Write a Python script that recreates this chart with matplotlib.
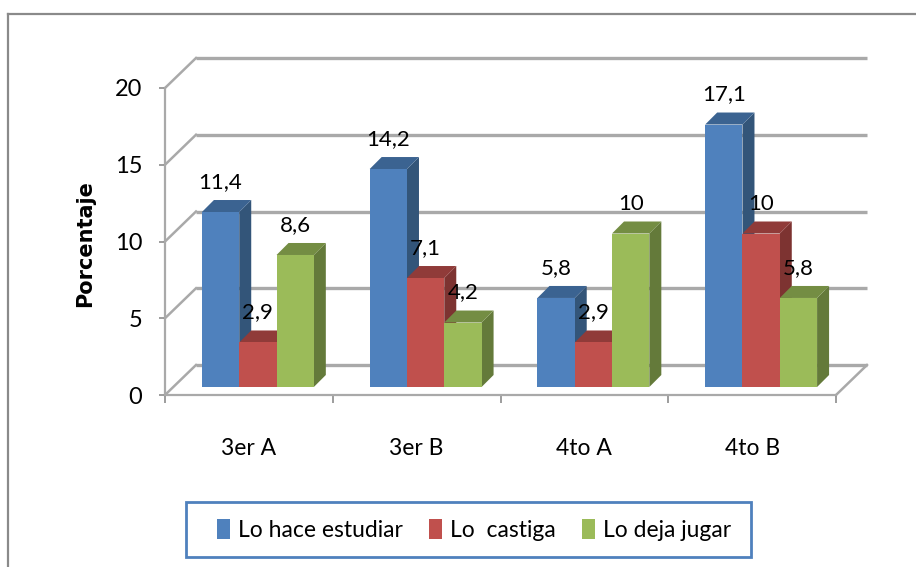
import matplotlib
matplotlib.use("Agg")
import matplotlib.pyplot as plt
from matplotlib.lines import Line2D
from matplotlib.patches import Patch, Rectangle
from matplotlib.transforms import Affine2D

categories = ["3er A", "3er B", "4to A", "4to B"]
series_names = ["Lo hace estudiar", "Lo  castiga", "Lo deja jugar"]
estudiar = [11.4, 14.2, 5.8, 17.1]
castiga = [2.9, 7.1, 2.9, 10]
jugar = [8.6, 4.2, 10, 5.8]
labels_estudiar = ["11,4", "14,2", "5,8", "17,1"]
labels_castiga = ["2,9", "7,1", "2,9", "10"]
labels_jugar = ["8,6", "4,2", "10", "5,8"]
y_ticks = [0, 5, 10, 15, 20]

front = ["#4f81bd", "#c0504d", "#9bbb59"]
top = ["#3b6391", "#903b39", "#748d43"]
side = ["#335579", "#7d3331", "#647a3a"]
GRID = "#a9a9a9"

W, H = 916, 567
plt.rcParams["font.family"] = ["Lato", "DejaVu Sans"]

fig = plt.figure(figsize=(W / 100, H / 100), dpi=100, facecolor="white")
L, R, T, B = 165, 836, 88, 395
ax = fig.add_axes([L / W, 1 - B / H, (R - L) / W, (B - T) / H])
ax.set_xlim(0, 4)
ax.set_ylim(0, 20)
ax.patch.set_alpha(0)
px_x = (R - L) / 4
px_y = (B - T) / 20

fig.add_artist(Line2D([8 / W, 8 / W], [0, 1 - 14 / H], color="#8a8a8a", lw=1.6))
fig.add_artist(Line2D([8 / W, 1], [1 - 14 / H, 1 - 14 / H], color="#8a8a8a", lw=1.6))

back_dx, back_dy = 31, 30
back = ax.transData + Affine2D().translate(back_dx, back_dy)
for v in y_ticks:
    ax.plot([0, 4], [v, v], transform=back, color=GRID, lw=2.4, clip_on=False,
            solid_capstyle="butt", zorder=1)
    ax.plot([0, back_dx / px_x], [v, v + back_dy / px_y], color=GRID, lw=1.8,
            clip_on=False, zorder=1)
ax.plot([4, 4 + back_dx / px_x], [0, back_dy / px_y], color=GRID, lw=1.8,
        clip_on=False, zorder=1)

bar_w = 37.3 / px_x
depth_x, depth_y = 12 / px_x, 12 / px_y
base = ax.transData + Affine2D().translate(9, 8)
text_t = base + Affine2D().translate(0, 30)
all_vals = [estudiar, castiga, jugar]
all_labs = [labels_estudiar, labels_castiga, labels_jugar]
z = 3
for c in range(len(categories)):
    for s in range(3):
        v = all_vals[s][c]
        x0 = c + 0.5 + (s - 1.5) * bar_w
        x1 = x0 + bar_w
        ax.fill([x1, x1 + depth_x, x1 + depth_x, x1],
                [0, depth_y, v + depth_y, v], color=side[s], lw=0,
                transform=base, clip_on=False, zorder=z)
        ax.fill([x0, x0 + depth_x, x1 + depth_x, x1],
                [v, v + depth_y, v + depth_y, v], color=top[s], lw=0,
                transform=base, clip_on=False, zorder=z)
        ax.bar(x0, v, width=bar_w, align="edge", color=front[s], lw=0,
               transform=base, clip_on=False, zorder=z + 0.5)
        z += 1
for c in range(len(categories)):
    for s in range(3):
        x = c + 0.5 + (s - 1) * bar_w
        ax.text(x, all_vals[s][c], all_labs[s][c], transform=text_t, ha="center",
                va="center", fontsize=16, color="black", zorder=50)

for name in ("top", "right"):
    ax.spines[name].set_visible(False)
for name in ("left", "bottom"):
    ax.spines[name].set_color(GRID)
    ax.spines[name].set_linewidth(1.6)
ax.set_yticks(y_ticks)
ax.set_yticklabels([str(v) for v in y_ticks], fontsize=17)
ax.set_xticks(range(5))
ax.set_xticklabels([])
ax.set_xticks([c + 0.5 for c in range(4)], minor=True)
ax.set_xticklabels(categories, minor=True, fontsize=16.5)
ax.tick_params(axis="x", which="major", length=6, color="#8c8c8c", width=1.2)
ax.tick_params(axis="x", which="minor", length=0, pad=31)
ax.tick_params(axis="y", length=4.5, color="#8c8c8c", width=1.2, pad=12)

fig.text(85 / W, 1 - 243.5 / H, "Porcentaje", rotation=90, ha="center", va="center",
         family="DejaVu Sans", fontweight="bold", fontsize=15)

fig.add_artist(Rectangle((186 / W, 1 - 557 / H), 565 / W, 55 / H, transform=fig.transFigure,
                         facecolor="white", edgecolor="#4f81bd", lw=2))
handles = [Patch(facecolor=f, edgecolor="none") for f in front]
leg = fig.legend(handles, series_names, ncol=3, loc="center left",
                 bbox_to_anchor=(217 / W, 1 - 530 / H), fontsize=16.5,
                 frameon=False, borderaxespad=0, borderpad=0,
                 handlelength=0.57, handleheight=1.0, handletextpad=0.35,
                 columnspacing=1.14)

fig.savefig("out.png", dpi=100)
